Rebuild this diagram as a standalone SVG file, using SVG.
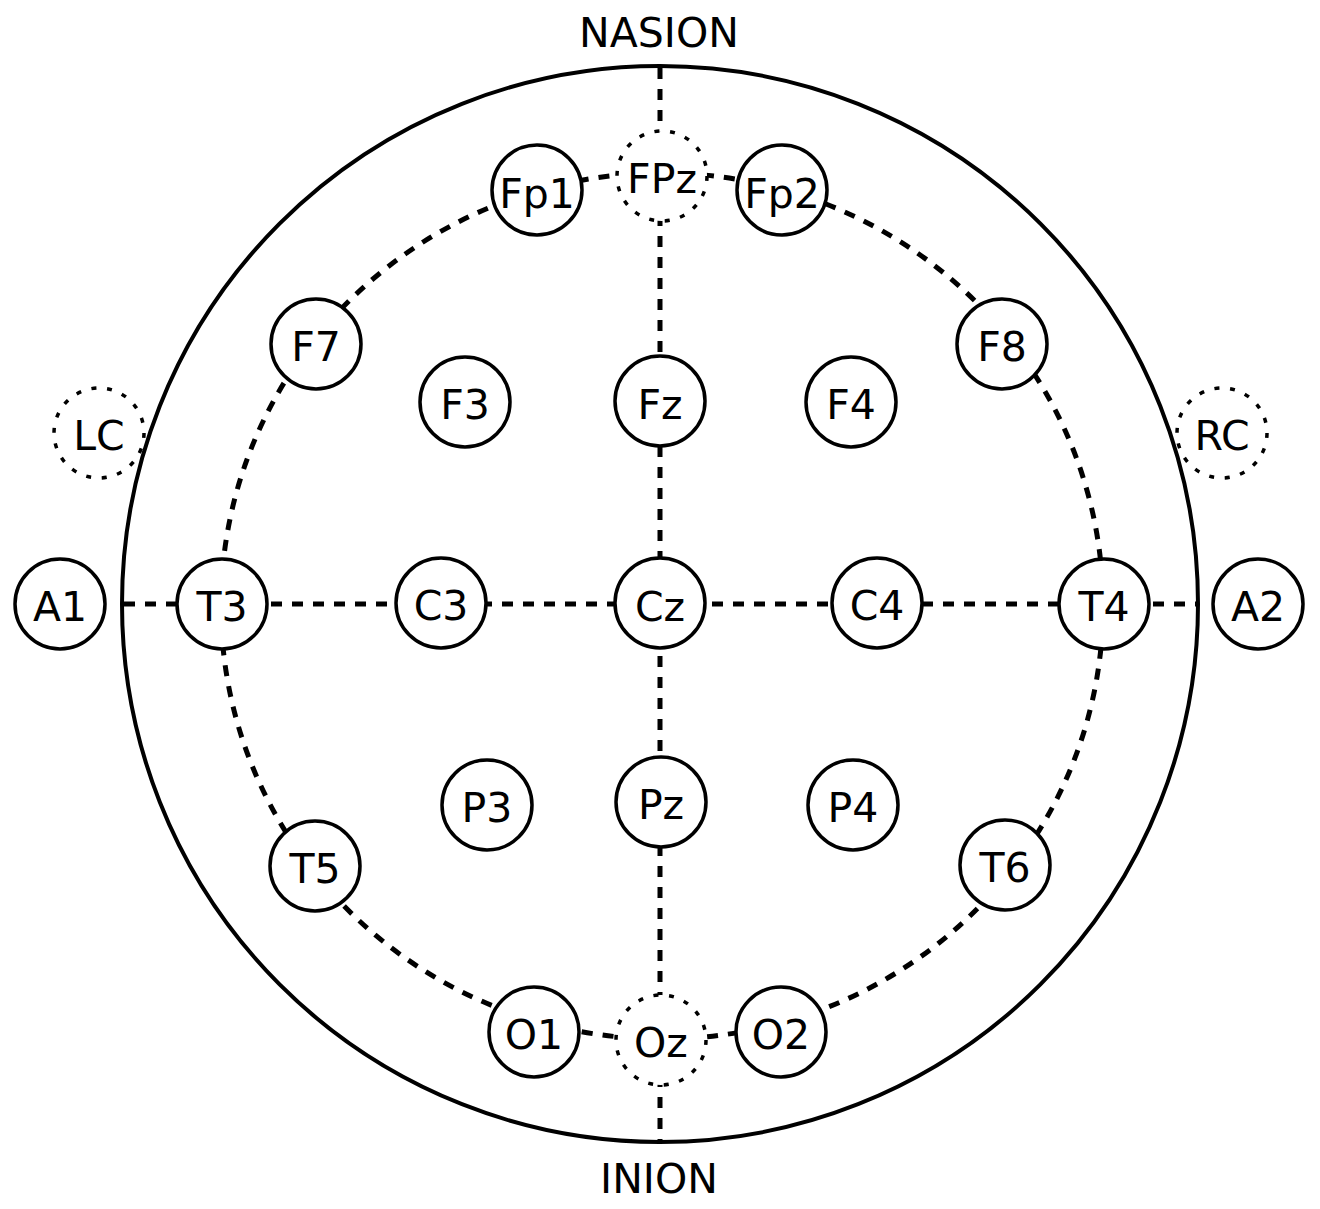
<svg xmlns="http://www.w3.org/2000/svg" width="1320" height="1209" viewBox="0 0 1320 1209">
<style>
  .head { fill: none; stroke: #000; stroke-width: 4; }
  .conn { fill: none; stroke: #000; stroke-width: 5; stroke-dasharray: 11 10; }
  .node circle { fill: #fff; stroke: #000; stroke-width: 3.5; }
  .node.ref circle { stroke-width: 3.5; stroke-dasharray: 5 10.7; }
  text { font-family: "DejaVu Sans", "Liberation Sans", sans-serif; fill: #000; text-anchor: middle; }
  .lbl { font-size: 41px; }
  .title { font-size: 41px; }
</style>
<rect width="1320" height="1209" fill="#fff"/>
<circle class="head" cx="660" cy="604" r="538"/>
<text class="title" x="659" y="47">NASION</text>
<text class="title" x="659" y="1193">INION</text>
<g id="connectors">
  <line class="conn" x1="660" y1="68" x2="660" y2="1140"/>
  <line class="conn" x1="124" y1="604" x2="1196" y2="604"/>
  <ellipse class="conn" cx="662" cy="606" rx="441" ry="433"/>
</g>
<g id="node-FPz" class="node ref"><circle cx="662" cy="176" r="45"/><text class="lbl" x="662" y="193">FPz</text></g>
<g id="node-Fp1" class="node"><circle cx="537" cy="190" r="45"/><text class="lbl" x="537" y="208">Fp1</text></g>
<g id="node-Fp2" class="node"><circle cx="782" cy="190" r="45"/><text class="lbl" x="782" y="208">Fp2</text></g>
<g id="node-F7" class="node"><circle cx="316" cy="344" r="45"/><text class="lbl" x="316" y="361">F7</text></g>
<g id="node-F8" class="node"><circle cx="1002" cy="344" r="45"/><text class="lbl" x="1002" y="361">F8</text></g>
<g id="node-F3" class="node"><circle cx="465" cy="402" r="45"/><text class="lbl" x="465" y="419">F3</text></g>
<g id="node-Fz" class="node"><circle cx="660" cy="401" r="45"/><text class="lbl" x="660" y="419">Fz</text></g>
<g id="node-F4" class="node"><circle cx="851" cy="402" r="45"/><text class="lbl" x="851" y="419">F4</text></g>
<g id="node-LC" class="node ref"><circle cx="99" cy="433" r="45"/><text class="lbl" x="99" y="450">LC</text></g>
<g id="node-RC" class="node ref"><circle cx="1222" cy="433" r="45"/><text class="lbl" x="1222" y="450">RC</text></g>
<g id="node-A1" class="node"><circle cx="60" cy="604" r="45"/><text class="lbl" x="60" y="621">A1</text></g>
<g id="node-T3" class="node"><circle cx="222" cy="604" r="45"/><text class="lbl" x="222" y="621">T3</text></g>
<g id="node-C3" class="node"><circle cx="441" cy="603" r="45"/><text class="lbl" x="441" y="620">C3</text></g>
<g id="node-Cz" class="node"><circle cx="660" cy="603" r="45"/><text class="lbl" x="660" y="621">Cz</text></g>
<g id="node-C4" class="node"><circle cx="877" cy="603" r="45"/><text class="lbl" x="877" y="620">C4</text></g>
<g id="node-T4" class="node"><circle cx="1104" cy="604" r="45"/><text class="lbl" x="1104" y="621">T4</text></g>
<g id="node-A2" class="node"><circle cx="1258" cy="604" r="45"/><text class="lbl" x="1258" y="621">A2</text></g>
<g id="node-P3" class="node"><circle cx="487" cy="805" r="45"/><text class="lbl" x="487" y="822">P3</text></g>
<g id="node-Pz" class="node"><circle cx="661" cy="802" r="45"/><text class="lbl" x="661" y="819">Pz</text></g>
<g id="node-P4" class="node"><circle cx="853" cy="805" r="45"/><text class="lbl" x="853" y="822">P4</text></g>
<g id="node-T5" class="node"><circle cx="315" cy="866" r="45"/><text class="lbl" x="315" y="883">T5</text></g>
<g id="node-T6" class="node"><circle cx="1005" cy="865" r="45"/><text class="lbl" x="1005" y="882">T6</text></g>
<g id="node-O1" class="node"><circle cx="534" cy="1032" r="45"/><text class="lbl" x="534" y="1049">O1</text></g>
<g id="node-Oz" class="node ref"><circle cx="661" cy="1040" r="45"/><text class="lbl" x="661" y="1057">Oz</text></g>
<g id="node-O2" class="node"><circle cx="781" cy="1032" r="45"/><text class="lbl" x="781" y="1049">O2</text></g>
</svg>
